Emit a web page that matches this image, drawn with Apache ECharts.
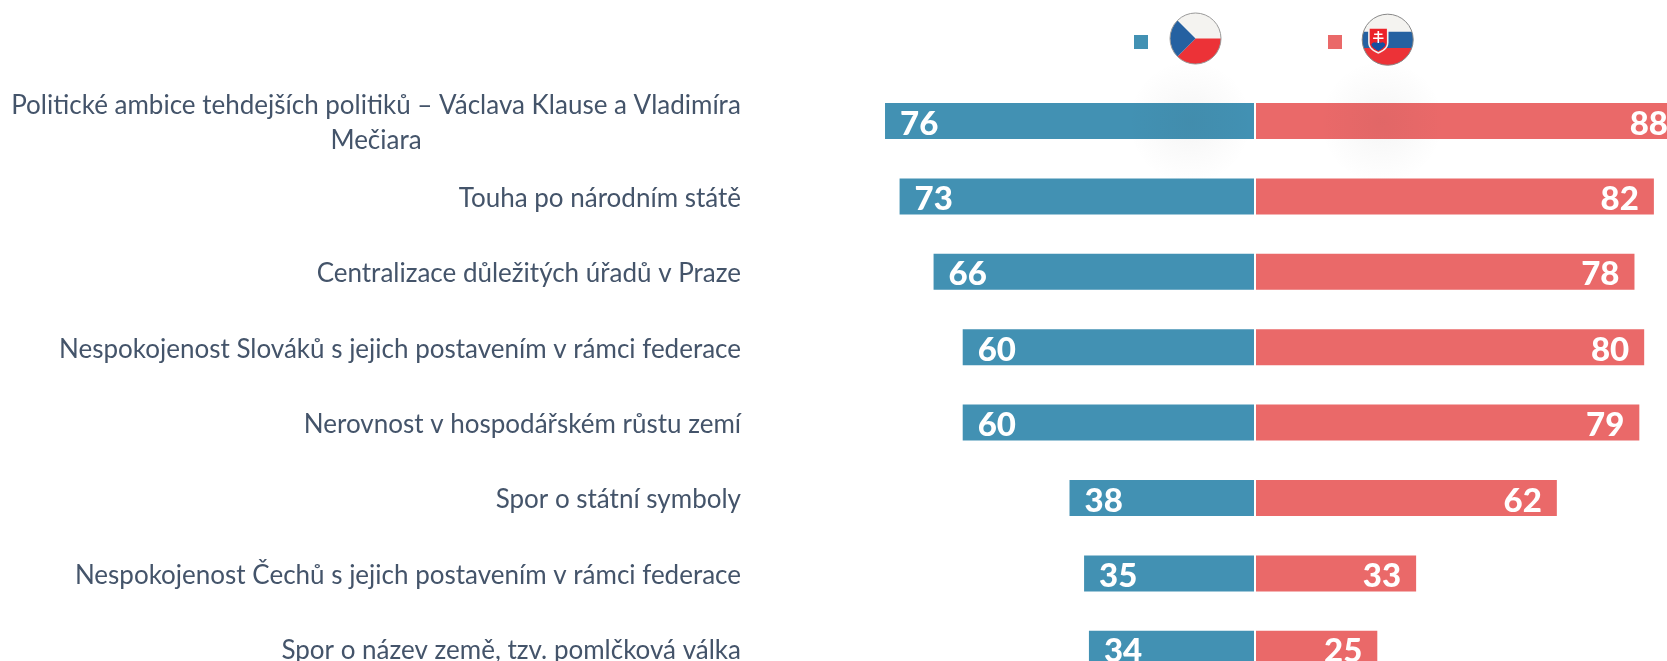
<!DOCTYPE html>
<html>
<head>
<meta charset="utf-8">
<title>Rozdělení Československa</title>
<script src="https://cdn.jsdelivr.net/npm/echarts@6/dist/echarts.min.js"></script>
<style>
    html, body { margin: 0; padding: 0; background: #fff; }
    #chart { width: 1667px; height: 661px; }
</style>
</head>
<body>
<div id="chart"></div>
<script>
const categories = [
    'Politické ambice tehdejších politiků – Václava Klause a Vladimíra\nMečiara',
    'Touha po národním státě',
    'Centralizace důležitých úřadů v Praze',
    'Nespokojenost Slováků s jejich postavením v rámci federace',
    'Nerovnost v hospodářském růstu zemí',
    'Spor o státní symboly',
    'Nespokojenost Čechů s jejich postavením v rámci federace',
    'Spor o název země, tzv. pomlčková válka',
];
const czValues = [76, 73, 66, 60, 60, 38, 35, 34];
const skValues = [88, 82, 78, 80, 79, 62, 33, 25];
const czName = 'Česko';
const skName = 'Slovensko';
const czColor = '#4291b3';
const skColor = '#ea6969';
const textColor = '#44546a';
const fontFamily = 'Lato, "Noto Sans", sans-serif';

const chart = echarts.init(document.getElementById('chart'), null, { renderer: 'canvas' });

// rozmazaný stín pod vlajkami
const flagShadow = (cx) => ({
    type: 'circle',
    z: 50,
    silent: true,
    shape: { cx: cx, cy: 122, r: 62 },
    style: {
        fill: {
            type: 'radial',
            x: 0.5,
            y: 0.5,
            r: 0.5,
            colorStops: [
                { offset: 0, color: 'rgba(60,60,60,0.05)' },
                { offset: 0.6, color: 'rgba(60,60,60,0.02)' },
                { offset: 1, color: 'rgba(60,60,60,0)' },
            ],
        },
    },
});

// vlajky jako svg, kolečko 52x52
const svgUri = (body) => 'data:image/svg+xml;charset=utf-8,' + encodeURIComponent(
    '<svg xmlns="http://www.w3.org/2000/svg" width="54" height="54" viewBox="-27 -27 54 54">' + body + '</svg>'
);

const czFlagSvg = svgUri(
    '<circle r="25.5" fill="#f4f3f0"/>' +
    '<path d="M0 0 L-18 18 A25.5 25.5 0 0 0 25.5 0 Z" fill="#ec3237"/>' +
    '<path d="M0 0 L-18 -18 A25.5 25.5 0 0 0 -18 18 Z" fill="#2561a1"/>' +
    '<circle r="25.5" fill="none" stroke="#999" stroke-width="1"/>'
);

const skFlagSvg = svgUri(
    '<circle r="25.5" fill="#f4f3f0"/>' +
    '<path d="M-24.2 -8 L24.2 -8 A25.5 25.5 0 0 1 24.1 8.3 L-24.1 8.3 A25.5 25.5 0 0 1 -24.2 -8 Z" fill="#2561a1"/>' +
    '<path d="M-24.1 8.3 L24.1 8.3 A25.5 25.5 0 0 1 -24.1 8.3 Z" fill="#ec3237"/>' +
    '<path d="M-19.6 -12.4 L0.8 -12.4 L0.8 3 C0.8 9 -5 12 -9.4 14 C-13.8 12 -19.6 9 -19.6 3 Z" fill="#f4f3f0"/>' +
    '<path d="M-18 -11 L-0.8 -11 L-0.8 3 C-0.8 8 -5.5 10.5 -9.4 12.3 C-13.3 10.5 -18 8 -18 3 Z" fill="#ec2229"/>' +
    '<path d="M-16.4 5 C-14.5 2 -12.5 2 -11.6 3.6 C-10.5 1 -8 1 -7 3.6 C-6 2 -3.8 2 -2.3 5 C-3.5 8 -6.5 9.6 -9.4 11.2 C-12.3 9.6 -15.2 8 -16.4 5 Z" fill="#1650a0"/>' +
    '<path d="M-10.2 -8.6 H-8.6 V-6.2 H-5.2 V-4.6 H-8.6 V-2.2 H-4.2 V-0.6 H-8.6 V3.4 H-10.2 V-0.6 H-14.6 V-2.2 H-10.2 V-4.6 H-13.6 V-6.2 H-10.2 Z" fill="#fff"/>' +
    '<circle r="25.5" fill="none" stroke="#888" stroke-width="1"/>'
);

const flagImage = (uri, x, y) => ({
    type: 'image',
    x: x - 27,
    y: y - 27,
    z: 60,
    silent: true,
    style: { image: uri, width: 54, height: 54 },
});

const squareLegend = (name, left) => ({
    show: true,
    data: [name],
    left: left,
    top: 35,
    padding: 0,
    icon: 'rect',
    itemWidth: 14,
    itemHeight: 14,
    itemGap: 0,
    selectedMode: false,
    formatter: () => '',
});

const valueLabel = (position) => ({
    show: true,
    position: position,
    distance: 15,
    offset: [0, 3],
    color: '#fff',
    fontFamily: fontFamily,
    fontWeight: 900,
    fontSize: 33,
});

const option = {
    animation: false,
    backgroundColor: '#fff',
    legend: [squareLegend(czName, 1134), squareLegend(skName, 1328)],
    grid: [
        // spodní a pravý okraj přesahuje plátno, proto outerBoundsMode none
        { left: 865.6, right: 413, top: 83.3, bottom: -25.5, outerBoundsMode: 'none' },
        { left: 1256, right: -16, top: 83.3, bottom: -25.5, outerBoundsMode: 'none' },
    ],
    xAxis: [
        { gridIndex: 0, type: 'value', inverse: true, min: 0, max: 80, show: false },
        { gridIndex: 1, type: 'value', min: 0, max: 88, show: false },
    ],
    yAxis: [
        {
            gridIndex: 0,
            type: 'category',
            inverse: true,
            data: categories,
            position: 'left',
            offset: 124.6,
            axisLine: { show: false },
            axisTick: { show: false },
            axisLabel: {
                interval: 0,
                margin: 0,
                padding: [4, 0, 0, 0],
                color: textColor,
                fontFamily: fontFamily,
                fontSize: 26,
                lineHeight: 35,
                // dvouřádkový popisek má druhý řádek na střed
                formatter: (value) => value.includes('\n')
                    ? value.split('\n').map((line) => '{wrap|' + line + '}').join('\n')
                    : value,
                rich: {
                    wrap: {
                        width: 730,
                        align: 'center',
                        color: textColor,
                        fontFamily: fontFamily,
                        fontSize: 26,
                        lineHeight: 35,
                    },
                },
            },
        },
        {
            gridIndex: 1,
            type: 'category',
            inverse: true,
            data: categories,
            show: false,
        },
    ],
    series: [
        {
            name: czName,
            type: 'bar',
            xAxisIndex: 0,
            yAxisIndex: 0,
            barWidth: 36,
            data: czValues,
            itemStyle: { color: czColor },
            label: valueLabel('insideLeft'),
        },
        {
            name: skName,
            type: 'bar',
            xAxisIndex: 1,
            yAxisIndex: 1,
            barWidth: 36,
            data: skValues,
            itemStyle: { color: skColor },
            label: valueLabel('insideRight'),
        },
    ],
    graphic: [
        flagShadow(1190),
        flagShadow(1382),
        flagImage(czFlagSvg, 1195.5, 38.5),
        flagImage(skFlagSvg, 1387.7, 39.7),
    ],
};

chart.setOption(option);
</script>
</body>
</html>
